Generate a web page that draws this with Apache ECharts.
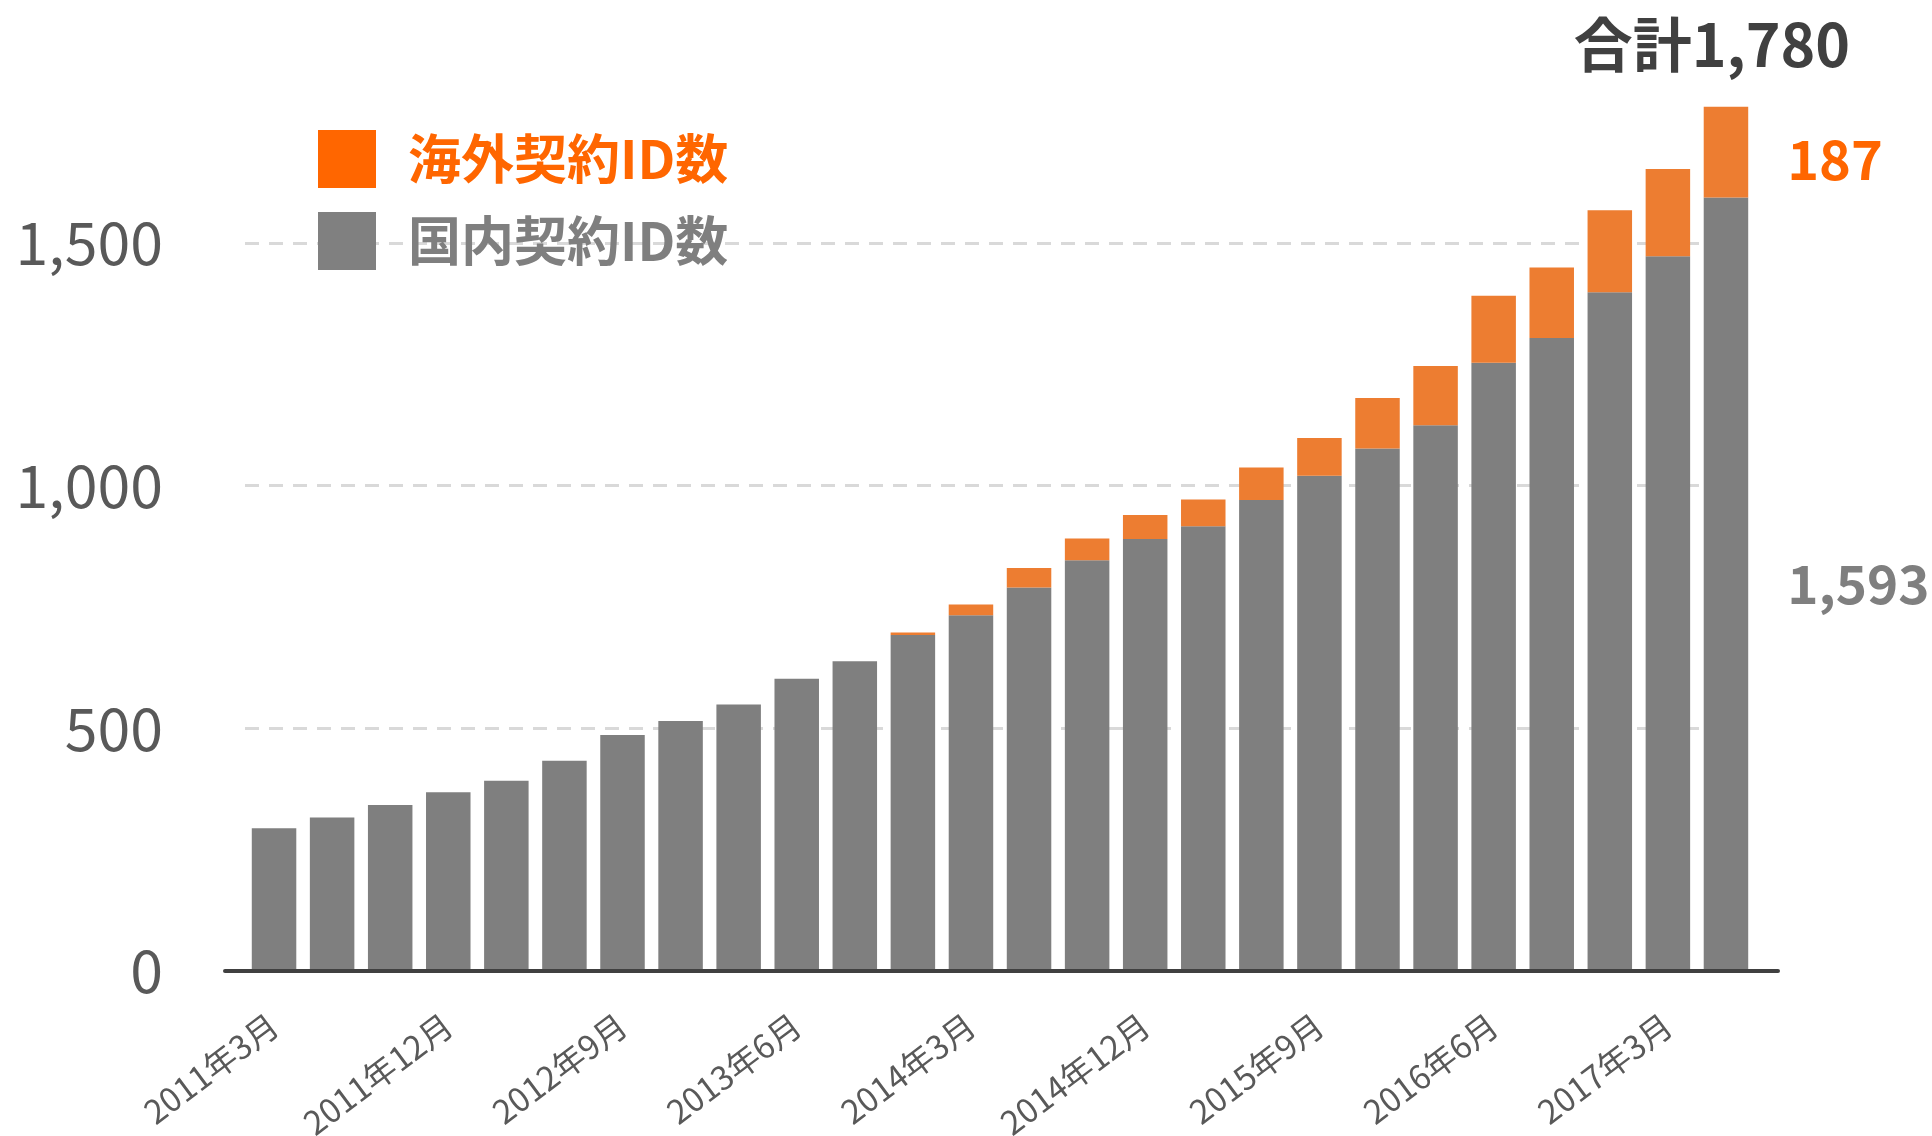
<!DOCTYPE html>
<html>
<head>
<meta charset="utf-8">
<title>契約ID数</title>
<script src="https://cdn.jsdelivr.net/npm/echarts@6/dist/echarts.min.js"></script>
<style>
	html, body { margin: 0; padding: 0; background: #fff; }
	#chart { width: 1932px; height: 1136px; }
</style>
</head>
<body>
<div id="chart"></div>
<script>
// 四半期ごと (2011年3月 〜 2017年6月)
var months = [
	"2011年3月", "2011年6月", "2011年9月", "2011年12月",
	"2012年3月", "2012年6月", "2012年9月", "2012年12月",
	"2013年3月", "2013年6月", "2013年9月", "2013年12月",
	"2014年3月", "2014年6月", "2014年9月", "2014年12月",
	"2015年3月", "2015年6月", "2015年9月", "2015年12月",
	"2016年3月", "2016年6月", "2016年9月", "2016年12月",
	"2017年3月", "2017年6月"
];
// 国内契約ID数
var domestic = [
	294, 316, 342, 368, 392, 433, 486, 515, 549, 602,
	638, 692, 733, 790, 846, 890, 916, 970, 1020, 1076,
	1124, 1253, 1304, 1398, 1472, 1593
];
// 海外契約ID数
var overseas = [
	0, 0, 0, 0, 0, 0, 0, 0, 0, 0,
	0, 5, 22, 40, 45, 49, 55, 67, 78, 104,
	122, 138, 145, 169, 180, 187
];
var yTicks = [0, 500, 1000, 1500];

var domesticName = "国内契約ID数";
var overseasName = "海外契約ID数";
var lastIdx = months.length - 1;
var FONT = "Noto Sans CJK JP";

function fmt(v) {
	return v.toString().replace(/\B(?=(\d{3})+(?!\d))/g, ",");
}

var myChart = echarts.init(document.getElementById("chart"));

var options = {
	animation: false,
	textStyle: { fontFamily: FONT },
	grid: [
		{ left: 245, right: 177, top: 0, bottom: 165, outerBoundsMode: "none" },
		// 横軸の線だけ少し広く描く
		{ left: 225, right: 154, top: 0, bottom: 165, outerBoundsMode: "none" }
	],
	legend: {
		orient: "vertical",
		left: 313,
		top: 125,
		itemWidth: 58,
		itemHeight: 58,
		itemGap: 24,
		icon: "rect",
		selectedMode: false,
		textStyle: {
			fontFamily: FONT,
			fontSize: 53,
			fontWeight: "bold",
			padding: [0, 0, 0, 27]
		},
		data: [
			{ name: overseasName, itemStyle: { color: "#FF6600" }, textStyle: { color: "#FF6600" } },
			{ name: domesticName, itemStyle: { color: "#808080" }, textStyle: { color: "#7F7F7F" } }
		]
	},
	xAxis: [
		{
			type: "category",
			gridIndex: 0,
			data: months,
			axisLine: { show: false },
			axisTick: { show: false },
			axisLabel: {
				interval: 2,
				rotate: 37,
				margin: 50,
				fontFamily: FONT,
				fontSize: 33,
				color: "#595959"
			}
		},
		{
			type: "value",
			gridIndex: 1,
			z: 10,
			axisLine: { show: true, lineStyle: { color: "#404040", width: 4 } },
			axisTick: { show: false },
			axisLabel: { show: false },
			splitLine: { show: false }
		}
	],
	yAxis: [
		{
			type: "value",
			gridIndex: 0,
			min: 0,
			max: 2000,
			interval: yTicks[1] - yTicks[0],
			axisLine: { show: false },
			axisTick: { show: false },
			axisLabel: {
				showMaxLabel: false,
				margin: 82,
				fontFamily: FONT,
				fontSize: 59,
				color: "#595959",
				padding: [0, 0, 6, 0],
				formatter: function (v) { return fmt(v); }
			},
			splitLine: {
				showMinLine: false,
				showMaxLine: false,
				lineStyle: { color: "#D9D9D9", width: 3, type: [14, 10] }
			}
		},
		{
			type: "value",
			gridIndex: 1,
			min: 0,
			max: 2000,
			show: false
		}
	],
	series: [
		{
			name: domesticName,
			type: "bar",
			stack: "total",
			barWidth: 44.5,
			itemStyle: { color: "#7F7F7F" },
			data: domestic.map(function (v, i) {
				if (i != lastIdx) return v;
				return {
					value: v,
					label: {
						show: true,
						position: "right",
						distance: 39,
						fontFamily: FONT,
						fontSize: 53,
						fontWeight: "bold",
						color: "#7F7F7F",
						formatter: function (p) { return fmt(p.value); }
					}
				};
			})
		},
		{
			name: overseasName,
			type: "bar",
			stack: "total",
			barWidth: 44.5,
			itemStyle: { color: "#ED7D31" },
			data: overseas.map(function (v, i) {
				if (i != lastIdx) return v;
				return {
					value: v,
					label: {
						show: true,
						position: "right",
						distance: 39,
						offset: [0, 7],
						fontFamily: FONT,
						fontSize: 54,
						fontWeight: "bold",
						color: "#FF6600",
						formatter: function (p) { return fmt(p.value); }
					}
				};
			})
		},
		{
			// 合計ラベル用 (高さ0)
			name: "合計",
			type: "bar",
			stack: "total",
			barWidth: 44.5,
			itemStyle: { color: "transparent" },
			data: months.map(function (m, i) {
				if (i != lastIdx) return 0;
				return {
					value: 0,
					label: {
						show: true,
						position: "top",
						distance: 33,
						offset: [-14, 0],
						fontFamily: FONT,
						fontSize: 59,
						fontWeight: "bold",
						color: "#404040",
						formatter: function () { return "合計" + fmt(domestic[i] + overseas[i]); }
					}
				};
			})
		}
	]
};
myChart.setOption(options);
</script>
</body>
</html>
